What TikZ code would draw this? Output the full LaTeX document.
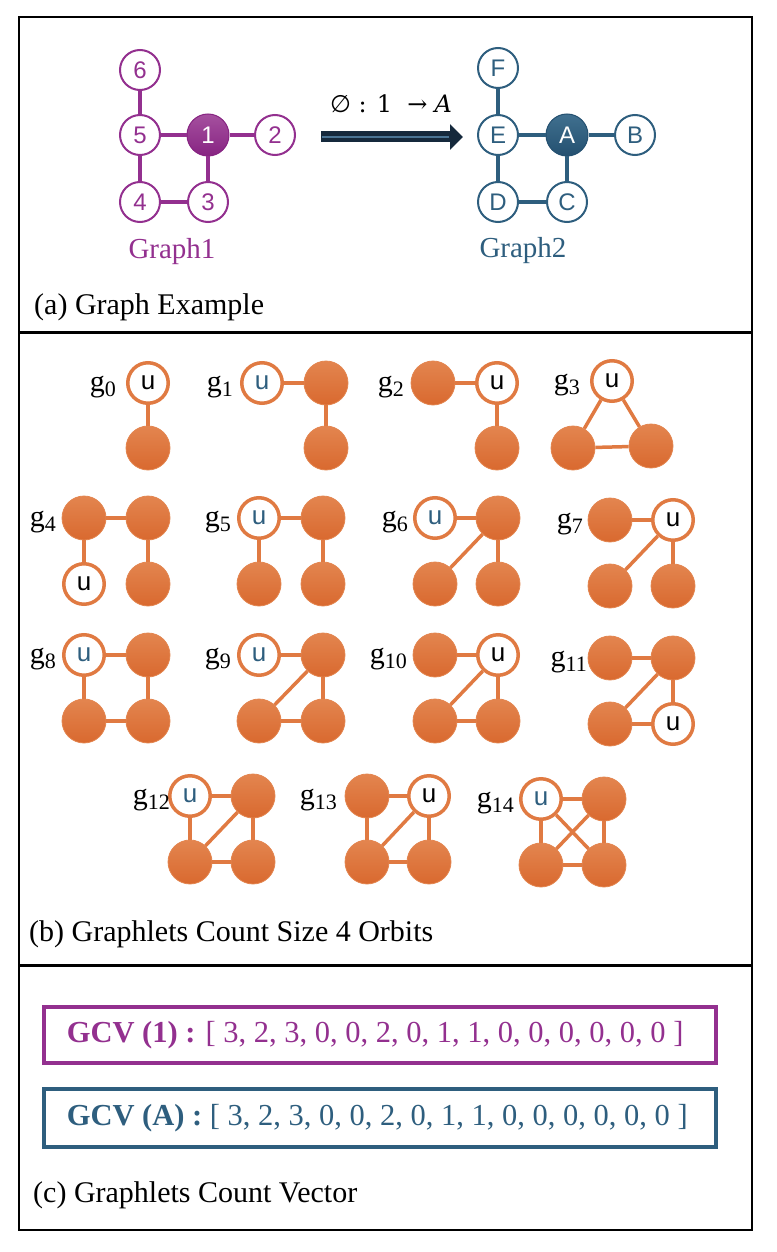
\documentclass[tikz,border=0pt]{standalone}
\usepackage{fontspec}
\setmainfont{Liberation Serif}
\newfontfamily\sansf{Liberation Sans}
\newfontfamily\dvserif{DejaVu Serif}
\newfontfamily\dvsans{DejaVu Sans}
\usetikzlibrary{arrows.meta}
\definecolor{pur}{HTML}{93308F}
\definecolor{purL}{HTML}{A5509F}
\definecolor{purD}{HTML}{872482}
\definecolor{blu}{HTML}{2E5E7E}
\definecolor{bluL}{HTML}{40708F}
\definecolor{bluD}{HTML}{245070}
\definecolor{org}{HTML}{E07A42}
\definecolor{orgL}{HTML}{E3854F}
\definecolor{orgD}{HTML}{D9692F}
\definecolor{navy}{HTML}{15293C}
\definecolor{navyL}{HTML}{4A7494}
\newcommand\fn[2]{\node[fnode] (#1) at (#2) {};}
\newcommand\un[3]{\node[unode, text=#3] (#1) at (#2) {u};}
\newcommand\gl[3]{\node[glab] (#1) at (#2) {g\raisebox{-5pt}{\fontsize{22}{22}\selectfont #3}};}
\begin{document}
\begin{tikzpicture}[x=1pt,y=-1pt,
  pnode/.style={circle, draw=pur, line width=2pt, fill=white, minimum size=40pt, inner sep=0pt, text=pur, font=\sansf\fontsize{24}{24}\selectfont},
  pfill/.style={circle, draw=purD, line width=1pt, top color=purL, bottom color=purD, minimum size=42pt, inner sep=0pt, text=white, font=\sansf\fontsize{24}{24}\selectfont},
  bnode/.style={circle, draw=blu, line width=2pt, fill=white, minimum size=40pt, inner sep=0pt, text=blu, font=\sansf\fontsize{24}{24}\selectfont},
  bfill/.style={circle, draw=bluD, line width=1pt, top color=bluL, bottom color=bluD, minimum size=42pt, inner sep=0pt, text=white, font=\sansf\fontsize{24}{24}\selectfont},
  pe/.style={draw=pur, line width=4pt},
  be/.style={draw=blu, line width=4pt},
  fnode/.style={circle, minimum size=44pt, inner sep=0pt, top color=orgL, bottom color=orgD, draw=orgL, line width=0.8pt},
  unode/.style={circle, minimum size=40.5pt, inner sep=0pt, draw=org, line width=3.5pt, fill=white, font=\sansf\fontsize{26}{26}\selectfont},
  ge/.style={draw=org, line width=3.5pt},
  glab/.style={anchor=base east, inner sep=0pt, font=\fontsize{30}{30}\selectfont},
  seclab/.style={anchor=west, inner sep=0pt, font=\fontsize{30}{36}\selectfont},
  gcvbox/.style={draw, line width=4pt, inner xsep=22.4pt, inner ysep=0pt, minimum height=56pt, font=\fontsize{30.5}{36}\selectfont}
]
\useasboundingbox (0,0) rectangle (776,1252);
% frame
\draw[line width=2.5pt] (19,17) rectangle (752,1230);
\draw[line width=3pt] (19,332) -- (752,332);
\draw[line width=3pt] (19,965) -- (752,965);

% ---------- (a) Graph example ----------
\node[pnode] (n6) at (140,70) {6};
\node[pnode] (n5) at (140,135) {5};
\node[pfill] (n1) at (208,135) {1};
\node[pnode] (n2) at (275,135) {2};
\node[pnode] (n4) at (140,202) {4};
\node[pnode] (n3) at (208,202) {3};
\draw[pe] (n6) -- (n5);
\draw[pe] (n5) -- (n1);
\draw[pe] (n1) -- (n2);
\draw[pe] (n5) -- (n4);
\draw[pe] (n1) -- (n3);
\draw[pe] (n4) -- (n3);
\node[text=pur, font=\fontsize{29}{29}\selectfont] (lab1) at (172,252) {Graph1};

\node[bnode] (nF) at (498,68) {F};
\node[bnode] (nE) at (498,135) {E};
\node[bfill] (nA) at (567,135) {A};
\node[bnode] (nB) at (635,135) {B};
\node[bnode] (nD) at (498,202) {D};
\node[bnode] (nC) at (567,202) {C};
\draw[be] (nF) -- (nE);
\draw[be] (nE) -- (nA);
\draw[be] (nA) -- (nB);
\draw[be] (nE) -- (nD);
\draw[be] (nA) -- (nC);
\draw[be] (nD) -- (nC);
\node[text=blu, font=\fontsize{29}{29}\selectfont] (lab2) at (523,251) {Graph2};

\coordinate (aS) at (321,137);
\coordinate (aE) at (463,137);
\draw[navy, line width=11pt, -{Triangle[length=13pt,width=25pt]}] (aS) -- (aE);
\draw[navyL, line width=1.5pt] ([xshift=1pt]aS) -- ([xshift=-14pt]aE);
\node[font=\dvserif\fontsize{24}{24}\selectfont] (alab) at (391,104) {{\dvsans ∅} : 1 \ →\hspace{7pt}{\itshape A}};

\node[seclab] (seca) at (34,307) {(a) Graph Example};

% ---------- (b) Graphlets ----------
% row 1
\un{g0u}{148,383}{black} \fn{g0a}{148,448}
\draw[ge] (g0u) -- (g0a);
\gl{l0}{116,391}{0}

\un{g1u}{262,383}{blu} \fn{g1a}{326,383} \fn{g1b}{326,448}
\draw[ge] (g1u) -- (g1a);
\draw[ge] (g1a) -- (g1b);
\gl{l1}{233,391}{1}

\fn{g2a}{433,383} \un{g2u}{497,383}{black} \fn{g2b}{497,448}
\draw[ge] (g2a) -- (g2u);
\draw[ge] (g2u) -- (g2b);
\gl{l2}{404,391}{2}

\un{g3u}{612,381}{black} \fn{g3a}{573,448} \fn{g3b}{651,446}
\draw[ge] (g3u) -- (g3a);
\draw[ge] (g3u) -- (g3b);
\draw[ge] (g3a) -- (g3b);
\gl{l3}{580,389}{3}

% row 2
\fn{g4a}{84,518} \fn{g4b}{148,518} \un{g4u}{84,584}{black} \fn{g4c}{148,584}
\draw[ge] (g4a) -- (g4b);
\draw[ge] (g4a) -- (g4u);
\draw[ge] (g4b) -- (g4c);
\gl{l4}{56,526}{4}

\un{g5u}{259,518}{blu} \fn{g5a}{323,518} \fn{g5b}{259,584} \fn{g5c}{323,584}
\draw[ge] (g5u) -- (g5a);
\draw[ge] (g5u) -- (g5b);
\draw[ge] (g5a) -- (g5c);
\gl{l5}{231,526}{5}

\un{g6u}{435,518}{blu} \fn{g6a}{498,518} \fn{g6b}{435,584} \fn{g6c}{498,584}
\draw[ge] (g6u) -- (g6a);
\draw[ge] (g6a) -- (g6b);
\draw[ge] (g6a) -- (g6c);
\gl{l6}{408,526}{6}

\fn{g7a}{610,520} \un{g7u}{673,520}{black} \fn{g7b}{610,586} \fn{g7c}{673,586}
\draw[ge] (g7a) -- (g7u);
\draw[ge] (g7u) -- (g7b);
\draw[ge] (g7u) -- (g7c);
\gl{l7}{583,528}{7}

% row 3
\un{g8u}{84,655}{blu} \fn{g8a}{148,655} \fn{g8b}{84,721} \fn{g8c}{148,721}
\draw[ge] (g8u) -- (g8a);
\draw[ge] (g8u) -- (g8b);
\draw[ge] (g8a) -- (g8c);
\draw[ge] (g8b) -- (g8c);
\gl{l8}{56,663}{8}

\un{g9u}{259,655}{blu} \fn{g9a}{323,655} \fn{g9b}{259,721} \fn{g9c}{323,721}
\draw[ge] (g9u) -- (g9a);
\draw[ge] (g9a) -- (g9b);
\draw[ge] (g9a) -- (g9c);
\draw[ge] (g9b) -- (g9c);
\gl{l9}{231,663}{9}

\fn{g10a}{435,655} \un{g10u}{498,655}{black} \fn{g10b}{435,721} \fn{g10c}{498,721}
\draw[ge] (g10a) -- (g10u);
\draw[ge] (g10u) -- (g10b);
\draw[ge] (g10u) -- (g10c);
\draw[ge] (g10b) -- (g10c);
\gl{l10}{407,663}{10}

\fn{g11a}{610,658} \fn{g11b}{673,658} \fn{g11c}{610,724} \un{g11u}{673,724}{black}
\draw[ge] (g11a) -- (g11b);
\draw[ge] (g11b) -- (g11c);
\draw[ge] (g11b) -- (g11u);
\draw[ge] (g11c) -- (g11u);
\gl{l11}{587,666}{11}

% row 4
\un{g12u}{190,796}{blu} \fn{g12a}{253,796} \fn{g12b}{190,862} \fn{g12c}{253,862}
\draw[ge] (g12u) -- (g12a);
\draw[ge] (g12u) -- (g12b);
\draw[ge] (g12a) -- (g12b);
\draw[ge] (g12a) -- (g12c);
\draw[ge] (g12b) -- (g12c);
\gl{l12}{170,804}{12}

\fn{g13a}{367,796} \un{g13u}{429,796}{black} \fn{g13b}{367,862} \fn{g13c}{429,862}
\draw[ge] (g13a) -- (g13u);
\draw[ge] (g13a) -- (g13b);
\draw[ge] (g13u) -- (g13b);
\draw[ge] (g13u) -- (g13c);
\draw[ge] (g13b) -- (g13c);
\gl{l13}{337,804}{13}

\un{g14u}{541,799}{blu} \fn{g14a}{604,799} \fn{g14b}{541,865} \fn{g14c}{604,865}
\draw[ge] (g14u) -- (g14a);
\draw[ge] (g14u) -- (g14b);
\draw[ge] (g14u) -- (g14c);
\draw[ge] (g14a) -- (g14b);
\draw[ge] (g14a) -- (g14c);
\draw[ge] (g14b) -- (g14c);
\gl{l14}{514,807}{14}

\node[seclab] (secb) at (29,934) {(b) Graphlets Count Size 4 Orbits};

% ---------- (c) GCV ----------
\node[gcvbox, draw=pur, text=pur] (gcv1) at (380.3,1035) {\makebox[627pt][l]{\textbf{GCV (1) :} [ 3, 2, 3, 0, 0, 2, 0, 1, 1, 0, 0, 0, 0, 0, 0 ]}};
\node[gcvbox, draw=blu, text=blu, minimum height=58pt] (gcv2) at (380.3,1118) {\makebox[627pt][l]{\textbf{GCV (A) :} [ 3, 2, 3, 0, 0, 2, 0, 1, 1, 0, 0, 0, 0, 0, 0 ]}};

\node[seclab] (secc) at (33,1195) {(c) Graphlets Count Vector};
\end{tikzpicture}
\end{document}
